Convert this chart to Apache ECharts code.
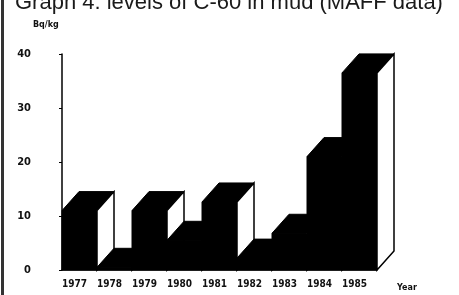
<!DOCTYPE html>
<html>
<head>
<meta charset="utf-8">
<script src="https://cdn.jsdelivr.net/npm/echarts@6/dist/echarts.min.js"></script>
<style>
  html, body { margin: 0; padding: 0; background: #fff; }
  #chart { width: 459px; height: 295px; }
</style>
</head>
<body>
<div id="chart"></div>
<script>
// values (Bq/kg, front face of each block)
const years = ['1977', '1978', '1979', '1980', '1981', '1982', '1983', '1984', '1985'];
const levels = [11, 0.5, 11, 5.5, 12.6, 2.2, 6.8, 21, 36.5];
const titleText = 'Graph 4: levels of C-60 in mud (MAFF data)';
const unitText = 'Bq/kg';
const xName = 'Year';

// depth offset of the fake 3D blocks
const DX = 17, DY = 19;
const labelFont = '"Liberation Sans Narrow", "DejaVu Sans Condensed", sans-serif';

const chart = echarts.init(document.getElementById('chart'));

function renderBlock(params, api) {
    const cat = api.value(0);
    const v = api.value(1);
    const top = api.coord([cat, v]);
    const base = api.coord([cat, 0]);
    const w = api.size([1, 0])[0];
    const x0 = top[0] - w / 2;
    const x1 = top[0] + w / 2;
    const yt = top[1];
    const yb = base[1];
    return {
        type: 'group',
        children: [
            {   // front
                type: 'polygon',
                shape: { points: [[x0, yb], [x0, yt], [x1, yt], [x1, yb]] },
                style: { fill: '#000', stroke: '#000', lineWidth: 1 }
            },
            {   // top
                type: 'polygon',
                shape: { points: [[x0, yt], [x0 + DX, yt - DY], [x1 + DX, yt - DY], [x1, yt]] },
                style: { fill: '#000', stroke: '#000', lineWidth: 1 }
            },
            {   // right side
                type: 'polygon',
                shape: { points: [[x1, yt], [x1 + DX, yt - DY], [x1 + DX, yb - DY], [x1, yb]] },
                style: { fill: '#fff', stroke: '#000', lineWidth: 1.5 }
            }
        ]
    };
}

const option = {
    animation: false,
    grid: {
        left: 62, top: 54, width: 315, height: 216,
        outerBoundsMode: 'none'
    },
    xAxis: {
        type: 'category',
        data: years,
        boundaryGap: true,
        axisLine: { lineStyle: { color: '#000', width: 1.5 } },
        axisTick: { show: false },
        axisLabel: {
            color: '#111',
            fontFamily: labelFont,
            fontWeight: 'bold',
            fontSize: 10,
            margin: 9,
            padding: [0, 10, 0, 0],
            interval: 0
        }
    },
    yAxis: {
        type: 'value',
        min: 0, max: 40, interval: 10,
        axisLine: { show: true, lineStyle: { color: '#000', width: 1.5 } },
        axisTick: { show: true, length: 3, lineStyle: { color: '#000' } },
        splitLine: { show: false },
        axisLabel: {
            color: '#111',
            fontFamily: labelFont,
            fontWeight: 'bold',
            fontSize: 11,
            margin: 31
        }
    },
    series: [{
        type: 'custom',
        renderItem: renderBlock,
        data: years.map((y, i) => [i, levels[i]]),
        encode: { x: 0, y: 1 },
        clip: false
    }],
    graphic: [
        {
            type: 'rect',
            shape: { x: 1, y: 0, width: 3, height: 295 },
            style: { fill: '#333' }
        },
        {
            // the scan cuts the title through the middle
            type: 'text',
            left: 15, top: -8,
            style: {
                text: titleText,
                font: '22px "Liberation Sans", Arial, sans-serif',
                fill: '#1a1a1a'
            }
        },
        {
            type: 'text',
            left: 33, top: 21,
            style: {
                text: unitText,
                font: 'bold 8px "DejaVu Sans", sans-serif',
                fill: '#111'
            }
        },
        {
            type: 'text',
            left: 397, top: 284,
            style: {
                text: xName,
                font: 'bold 8px "DejaVu Sans", sans-serif',
                fill: '#111'
            }
        }
    ]
};

chart.setOption(option);
</script>
</body>
</html>
